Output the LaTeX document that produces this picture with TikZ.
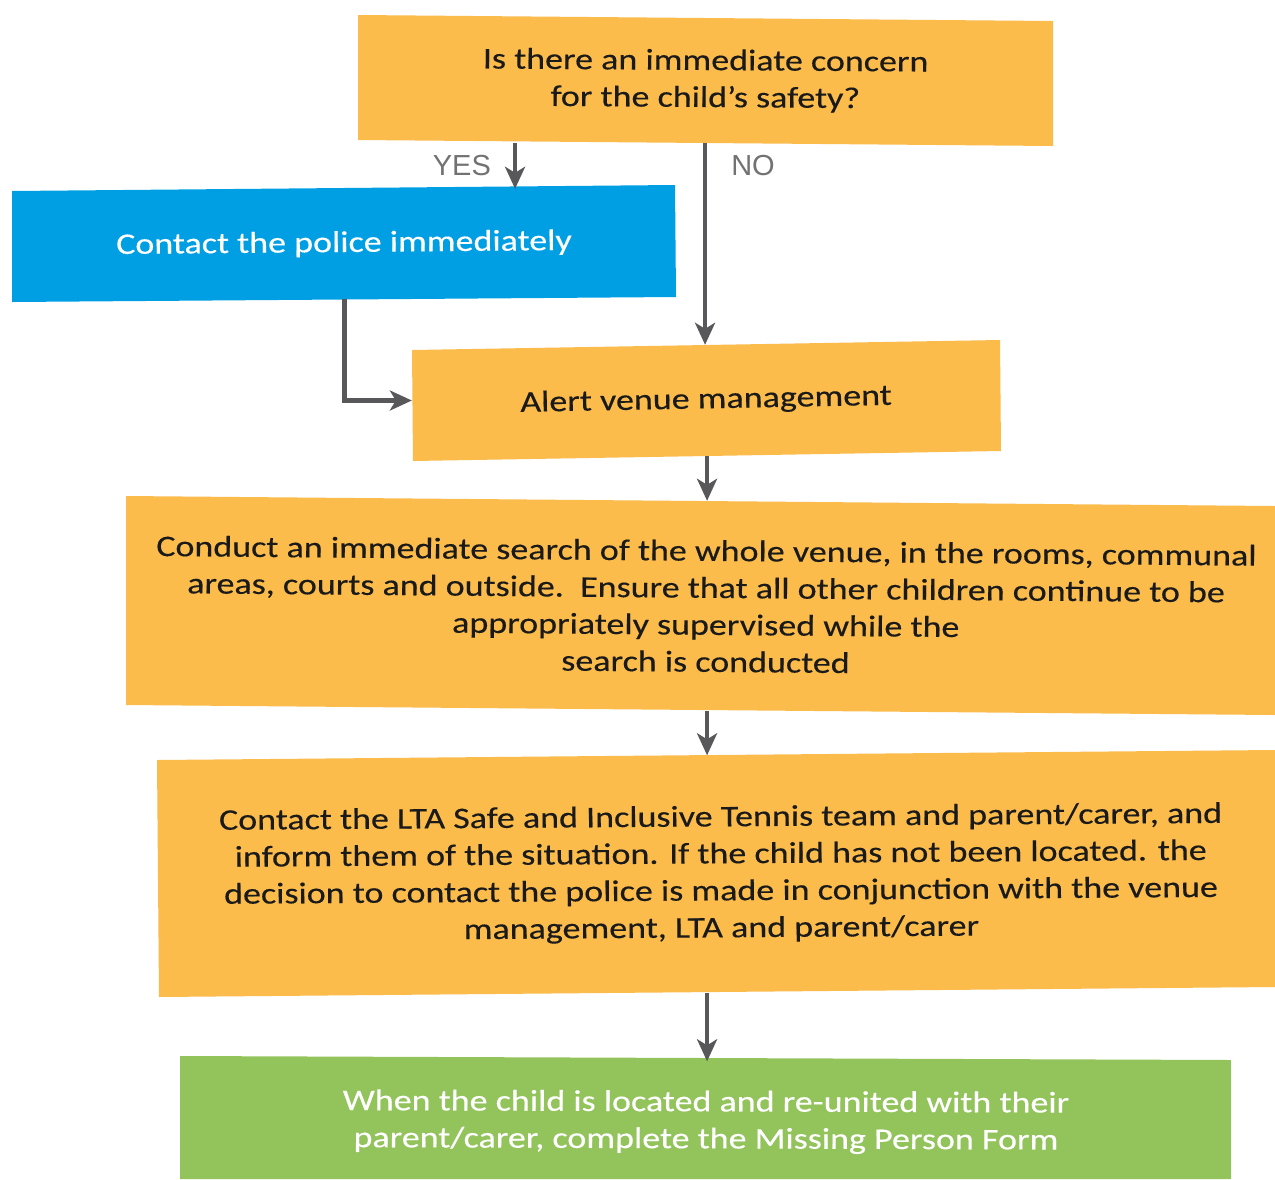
\documentclass[tikz,border=0pt]{standalone}
\usepackage{fontspec}
\setmainfont{Carlito}[FakeStretch=1.2,FakeBold=0.3]
\newfontfamily\labelfont{Liberation Sans}
\usetikzlibrary{arrows.meta}
\definecolor{boxorange}{HTML}{FBBC4C}
\definecolor{boxblue}{HTML}{009FE3}
\definecolor{boxgreen}{HTML}{93C35B}
\definecolor{arrowgrey}{HTML}{58585A}
\definecolor{labelgrey}{HTML}{727272}
\definecolor{textdark}{HTML}{1A1A1A}
\begin{document}
\begin{tikzpicture}[x=1pt,y=-1pt,
  boxtext/.style={inner sep=0pt, align=center, font=\fontsize{30}{37}\selectfont, text=textdark},
  flow/.style={draw=arrowgrey, line width=4.5pt, -{Stealth[length=22pt,width=20pt,inset=6pt]}},
  yesno/.style={font=\labelfont\fontsize{29}{34}\selectfont, text=labelgrey, inner sep=0pt}]
\useasboundingbox (0,0) rectangle (1275,1179);
% box fills (slightly skewed quadrilaterals)
\fill[boxorange] (358,15) -- (1053,21) -- (1053,146) -- (358,140) -- cycle;
\fill[boxblue] (12,191) -- (675,185) -- (676,297) -- (12,302) -- cycle;
\fill[boxorange] (412,350) -- (1000,340) -- (1001,451) -- (413,461) -- cycle;
\fill[boxorange] (126,496) -- (1275,506) -- (1275,715) -- (126,705) -- cycle;
\fill[boxorange] (157,760) -- (1275,750) -- (1275,987) -- (159,997) -- cycle;
\fill[boxgreen] (180,1056) -- (1231,1060) -- (1231,1179) -- (180,1179) -- cycle;
% nodes carrying the text
\node[boxtext, minimum width=695pt, minimum height=125pt, rotate=-0.4] (top) at (705.5,80.5)
  {Is there an immediate concern\\for the child’s safety?};
\node[boxtext, text=white, minimum width=664pt, minimum height=110pt, rotate=0.5] (blue) at (344,244)
  {Contact the police immediately};
\node[boxtext, minimum width=588pt, minimum height=111pt, rotate=1.1] (alert) at (706,400.5)
  {Alert venue management};
\node[boxtext, minimum width=1149pt, minimum height=210pt, rotate=-0.5] (search) at (706,606)
  {Conduct an immediate search of the whole venue, in the rooms, communal\\
   areas, courts and outside.\ \ Ensure that all other children continue to be\\
   appropriately supervised while the\\
   search is conducted};
\node[boxtext, minimum width=1118pt, minimum height=237pt, rotate=0.4] (lta) at (721,874)
  {Contact the LTA Safe and Inclusive Tennis team and parent/carer, and\\
   inform them of the situation. If the child has not been located. the\\
   decision to contact the police is made in conjunction with the venue\\
   management, LTA and parent/carer};
\node[boxtext, text=white, minimum width=1051pt, minimum height=121pt, rotate=-0.2] (green) at (706,1122)
  {When the child is located and re-united with their\\
   parent/carer, complete the Missing Person Form};
% connectors
\coordinate (yesstart) at ([xshift=-190pt]top.south);
\draw[flow] (yesstart) -- (yesstart |- blue.north);
\node[yesno, anchor=east] (yes) at ([xshift=-24pt,yshift=-22pt]yesstart) {YES};
\draw[flow] (top.south) -- (top.south |- alert.north);
\node[yesno, anchor=west] (no) at ([xshift=26pt,yshift=-22pt]top.south) {NO};
\draw[flow] (blue.south) |- (alert.center -| alert.west);
\draw[flow] (alert.south) -- (alert.south |- search.north);
\draw[flow] (alert.south |- search.south) -- (alert.south |- lta.north);
\draw[flow] (alert.south |- lta.south) -- (alert.south |- green.north);
\end{tikzpicture}
\end{document}
